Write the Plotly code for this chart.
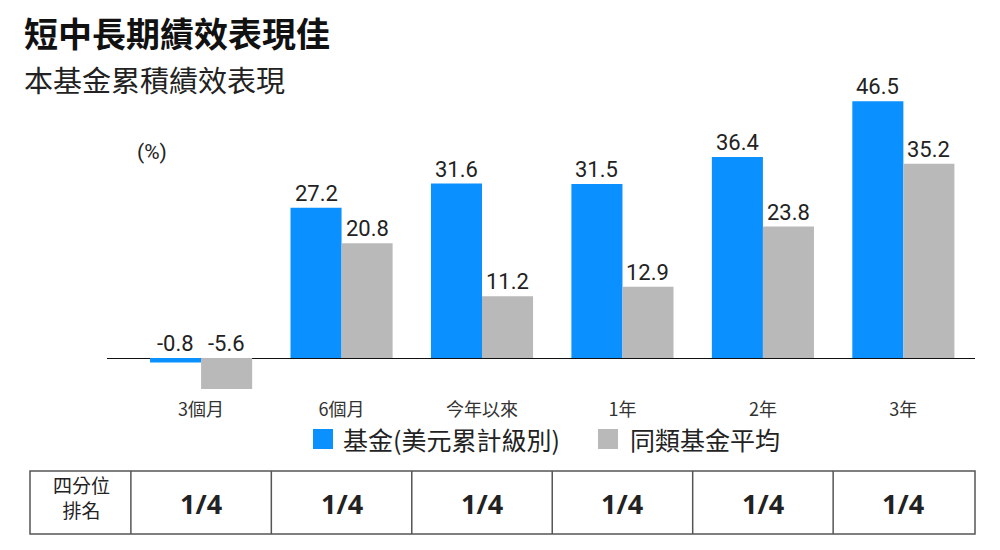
import plotly.graph_objects as go

# ---- data ----
categories = ["3個月", "6個月", "今年以來", "1年", "2年", "3年"]
fund_name = "基金(美元累計級別)"
peer_name = "同類基金平均"
fund_values = [-0.8, 27.2, 31.6, 31.5, 36.4, 46.5]
peer_values = [-5.6, 20.8, 11.2, 12.9, 23.8, 35.2]
rank_header = "四分位<br>排名"
ranks = ["1/4", "1/4", "1/4", "1/4", "1/4", "1/4"]
title_text = "短中長期績效表現佳"
subtitle_text = "本基金累積績效表現"
unit_text = "(%)"

# ---- layout constants (screen pixel positions; page body has 8px margin) ----
OFF = 8
W, H = 1000 - OFF, 550 - OFF
L, R, T, B = 107, 975, 80, 395          # plot area in screen px
ZERO_PX = 358
PPU = 5.52
Y_TOP = (ZERO_PX - T) / PPU
Y_BOT = -(B - ZERO_PX) / PPU
X_RANGE = [-0.67, 5.51]

BLUE = "#0a91ff"
GRAY = "#b9b9b9"
TXT = "#222222"
CJK = "Noto Sans CJK TC, Noto Sans, sans-serif"
NUM = "Roboto, Noto Sans CJK TC, sans-serif"


def px2x(px):
    return (px - L) / (R - L)


def px2y(py):
    return (B - py) / (B - T)


fig = go.Figure()
fig.add_trace(go.Bar(x=categories, y=fund_values, name=fund_name,
                     marker=dict(color=BLUE, line=dict(width=0)), showlegend=False))
fig.add_trace(go.Bar(x=categories, y=peer_values, name=peer_name,
                     marker=dict(color=GRAY, line=dict(width=0)), showlegend=False))

annotations = []
half = (R - L) / (X_RANGE[1] - X_RANGE[0]) * 0.3635 / 2
for i, cat in enumerate(categories):
    for vals, sh in ((fund_values, -half), (peer_values, half)):
        v = vals[i]
        annotations.append(dict(x=cat, y=max(v, 0), xref="x", yref="y", text=f"{v:.1f}",
                                showarrow=False, xshift=sh, yanchor="bottom", yshift=0,
                                font=dict(family=NUM, size=22, color=TXT)))

# title / subtitle / unit
annotations.append(dict(x=px2x(23), y=px2y(32), xref="paper", yref="paper", text=f"<b>{title_text}</b>",
                        showarrow=False, xanchor="left", yanchor="middle", borderpad=0,
                        font=dict(family=CJK, size=34, color="#111111")))
annotations.append(dict(x=px2x(23), y=px2y(79), xref="paper", yref="paper", text=subtitle_text,
                        showarrow=False, xanchor="left", yanchor="middle", borderpad=0,
                        font=dict(family=CJK, size=29, color="#222222")))
annotations.append(dict(x=px2x(152), y=px2y(152), xref="paper", yref="paper", text=unit_text,
                        showarrow=False, xanchor="center", yanchor="middle",
                        font=dict(family=NUM, size=21, color=TXT)))

shapes = []
# custom legend
for (sx, tx, name, col) in ((313, 341, fund_name, BLUE), (598, 628, peer_name, GRAY)):
    shapes.append(dict(type="rect", xref="paper", yref="paper",
                       x0=px2x(sx), x1=px2x(sx + 20), y0=px2y(449), y1=px2y(429),
                       fillcolor=col, line=dict(width=0)))
    annotations.append(dict(x=px2x(tx), y=px2y(439), xref="paper", yref="paper", text=name,
                            showarrow=False, xanchor="left", yanchor="middle",
                            font=dict(family=CJK, size=25, color=TXT)))

# table
TB_TOP, TB_BOT = 471, 534
shapes.append(dict(type="rect", xref="paper", yref="paper",
                   x0=px2x(30), x1=px2x(975), y0=px2y(TB_BOT), y1=px2y(TB_TOP),
                   line=dict(color="#555555", width=1.5), fillcolor="rgba(0,0,0,0)"))
for i in range(len(categories)):
    shapes.append(dict(type="line", xref="x", yref="paper", x0=i - 0.5, x1=i - 0.5,
                       y0=px2y(TB_BOT), y1=px2y(TB_TOP), line=dict(color="#555555", width=1.5)))
annotations.append(dict(x=px2x(81), y=px2y(497), xref="paper", yref="paper", text=rank_header,
                        showarrow=False, xanchor="center", yanchor="middle",
                        font=dict(family=CJK, size=19, color=TXT)))
for cat, rk in zip(categories, ranks):
    annotations.append(dict(x=cat, y=px2y(503), xref="x", yref="paper", text=f"<b>{rk}</b>",
                            showarrow=False, xanchor="center", yanchor="middle",
                            font=dict(family="Noto Sans, sans-serif", size=27, color=TXT)))

fig.update_layout(
    width=W, height=H,
    margin=dict(l=L - OFF, r=1000 - R, t=T - OFF, b=550 - B),
    paper_bgcolor="white", plot_bgcolor="white",
    barmode="group", bargap=0.273, bargroupgap=0,
    xaxis=dict(range=X_RANGE, showgrid=False, showline=False, ticks="",
               tickfont=dict(family=CJK, size=18, color="#333333"), ticklabelstandoff=2),
    yaxis=dict(range=[Y_BOT, Y_TOP], showgrid=False, showticklabels=False,
               zeroline=True, zerolinecolor="#111111", zerolinewidth=1.2, showline=False),
    annotations=annotations, shapes=shapes,
)

fig.write_html("out.html")
